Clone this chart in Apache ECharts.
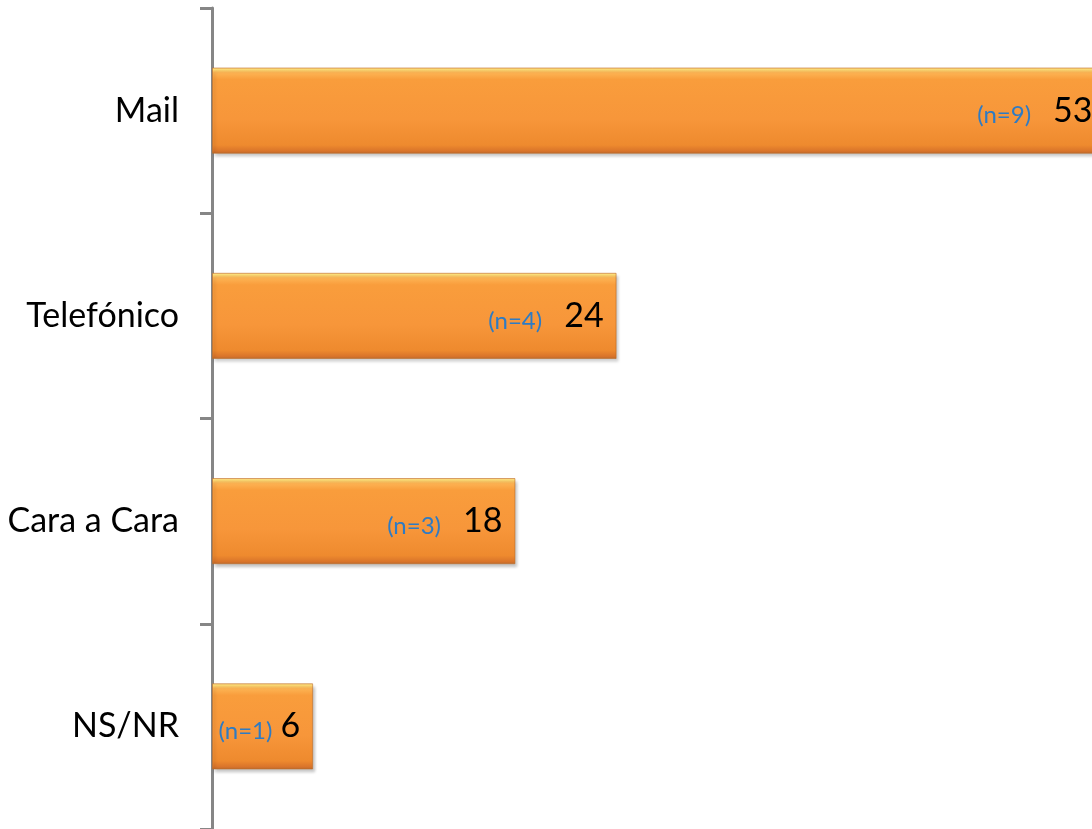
<!DOCTYPE html>
<html>
<head>
<meta charset="utf-8">
<script src="https://cdn.jsdelivr.net/npm/echarts@6/dist/echarts.min.js"></script>
<style>
  html, body { margin: 0; padding: 0; background: #fff; }
  #chart { width: 1092px; height: 829px; }
</style>
</head>
<body>
<div id="chart"></div>
<script>
const categories = ['Mail', 'Telefónico', 'Cara a Cara', 'NS/NR'];
const values = [53, 24, 18, 6];
const counts = [9, 4, 3, 1];

const chart = echarts.init(document.getElementById('chart'), null, { renderer: 'canvas' });

const barColor = new echarts.graphic.LinearGradient(0, 0, 0, 1, [
  { offset: 0, color: '#FBC77A' },
  { offset: 0.02, color: '#FFE27A' },
  { offset: 0.06, color: '#FDB454' },
  { offset: 0.14, color: '#F99D3C' },
  { offset: 0.6, color: '#F7963A' },
  { offset: 0.9, color: '#EE8A2E' },
  { offset: 0.97, color: '#D9742A' },
  { offset: 1, color: '#B9682E' }
]);

chart.setOption({
  animation: false,
  grid: { left: 212, right: 0, top: 8, bottom: -4, containLabel: false },
  xAxis: {
    type: 'value',
    min: 0,
    max: 52.2,
    show: false,
    splitLine: { show: false }
  },
  yAxis: {
    type: 'category',
    data: categories,
    inverse: true,
    axisLine: { show: true, lineStyle: { color: '#868686', width: 3 } },
    axisTick: { show: true, length: 12, lineStyle: { color: '#868686', width: 3 } },
    axisLabel: {
      margin: 33,
      color: '#000',
      fontFamily: 'Lato',
      fontSize: 34
    }
  },
  series: [{
    type: 'bar',
    data: values,
    barWidth: '42%',
    clip: false,
    itemStyle: {
      color: barColor,
      borderColor: 'rgba(190,110,40,0.6)',
      borderWidth: 1,
      shadowColor: 'rgba(0,0,0,0.25)',
      shadowBlur: 3,
      shadowOffsetX: 2,
      shadowOffsetY: 3
    },
    label: {
      show: true,
      position: 'insideRight',
      distance: 13,
      formatter: (p) => {
        const style = p.value < 10 ? 'ns' : 'n';
        return '{' + style + '|(n=' + counts[p.dataIndex] + ')}{v|' + p.value + '}';
      },
      rich: {
        n: { color: '#2E7BC4', fontFamily: 'Lato', fontSize: 24, verticalAlign: 'bottom', padding: [0, 22, 0, 0] },
        ns: { color: '#2E7BC4', fontFamily: 'Lato', fontSize: 24, verticalAlign: 'bottom', padding: [0, 8, 0, 0] },
        v: { color: '#000', fontFamily: 'Lato', fontSize: 34, verticalAlign: 'bottom' }
      }
    }
  }]
});
</script>
</body>
</html>
